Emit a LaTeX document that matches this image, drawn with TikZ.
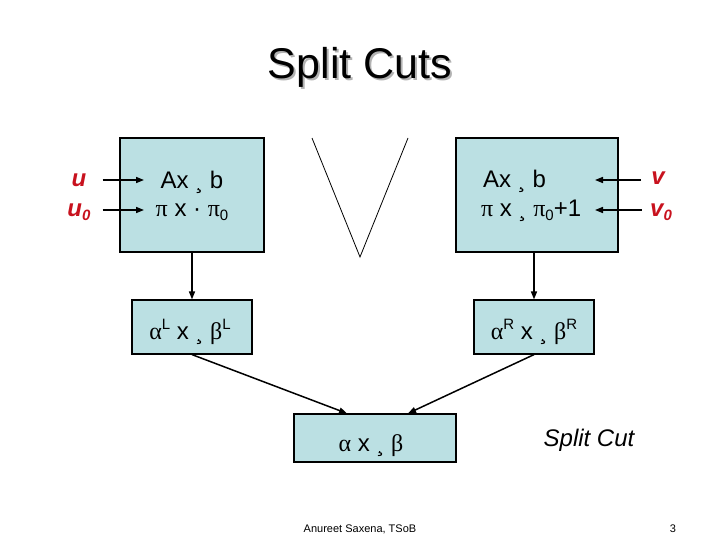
\documentclass[tikz,border=0pt]{standalone}
\usepackage{fontspec}
\setmainfont{Liberation Sans}
\newfontfamily\grkfont{Liberation Serif}
\usetikzlibrary{arrows.meta}
\definecolor{bleuboite}{RGB}{187,224,227}
\definecolor{rougelab}{RGB}{200,18,30}
\newcommand{\gk}[1]{{\grkfont #1}}
\newcommand{\ind}[1]{\raisebox{-0.3ex}{\fontsize{15}{15}\selectfont #1}}
\newcommand{\expo}[1]{\raisebox{0.75ex}{\fontsize{15}{15}\selectfont #1}}

\begin{document}
\begin{tikzpicture}[
    x=1pt, y=-1pt,
    >={Triangle[length=8pt, width=6pt]},
    boite/.style={draw, line width=1.2pt, fill=bleuboite, inner sep=0pt},
    texte/.style={font=\fontsize{24}{26}\selectfont, anchor=base, inner sep=0pt},
    varlab/.style={texte, text=rougelab,
                   font=\fontsize{24}{26}\selectfont\bfseries\itshape},
    fleche/.style={->, line width=1.5pt}
]
\useasboundingbox (0,0) rectangle (720,540);

% --- Titre (avec ombre) ---
\node[texte, text=black!30, font=\fontsize{43}{46}\selectfont]
    (titreombre) at (362,81) {Split Cuts};
\node[texte, font=\fontsize{43}{46}\selectfont] (titre) at (360,79) {Split Cuts};

% ============================================================
%  BOITES
% ============================================================
\node[boite, minimum width=144pt, minimum height=114pt] (hautG) at (192,195) {};
\node[boite, minimum width=162pt, minimum height=114pt] (hautD) at (537,195) {};
\node[boite, minimum width=120pt, minimum height=54pt]  (coupeG) at (192,327) {};
\node[boite, minimum width=120pt, minimum height=54pt]  (coupeD) at (534,327) {};
\node[boite, minimum width=162pt, minimum height=48pt]  (split) at (375,438) {};

% --- Textes des boites ---
\node[texte] (ligneG1) at (192,189) {Ax ¸ b};
\node[texte] (ligneG2) at (192,217) {\gk{π} x · \gk{π}\ind{0}};
\node[texte, anchor=base west] (ligneD1) at (483,188) {Ax ¸ b};
\node[texte, anchor=base west] (ligneD2) at (481,217) {\gk{π} x ¸ \gk{π}\ind{0}+1};
\node[texte] (ligneCG) at (190,339) {\gk{α}\expo{L} x ¸ \gk{β}\expo{L}};
\node[texte] (ligneCD) at (534,339) {\gk{α}\expo{R} x ¸ \gk{β}\expo{R}};
\node[texte] (ligneS) at (371,451) {\gk{α} x ¸ \gk{β}};

% --- Variables duales ---
\node[varlab] (u) at (79,187) {u};
\node[varlab] (uzero) at (79,217) {u\ind{0}};
\node[varlab] (v) at (658,185) {v};
\node[varlab] (vzero) at (661,217) {v\ind{0}};

% --- Disjonction ---
\draw[line width=0.8pt] (312,138) -- (360,257) -- (408,138);

\node[texte, font=\fontsize{24}{26}\selectfont\itshape] (legende) at (589,446) {Split Cut};
\node[texte, font=\fontsize{11}{12}\selectfont] (auteur) at (360,532) {Anureet Saxena, TSoB};
\node[texte, font=\fontsize{11}{12}\selectfont] (page) at (673,532) {3};

% ============================================================
%  FLECHES
% ============================================================
\coordinate (uin) at (144,180);
\coordinate (uzin) at (144,210);
\coordinate (vin) at (595,180);
\coordinate (vzin) at (595,210);
\draw[fleche, shorten <=16pt] (uin -| u.east) -- (uin);
\draw[fleche, shorten <=12pt] (uzin -| uzero.east) -- (uzin);
\draw[fleche, shorten <=10pt] (vin -| v.west) -- (vin);
\draw[fleche, shorten <=8pt] (vzin -| vzero.west) -- (vzin);

\draw[fleche] (hautG) -- (coupeG);
\draw[fleche] (coupeD.north |- hautD.south) -- (coupeD.north);
\draw[fleche] (coupeG.south) -- ([xshift=-28pt]split.north);
\draw[fleche] (coupeD.south) -- ([xshift=33pt]split.north);

\end{tikzpicture}
\end{document}
